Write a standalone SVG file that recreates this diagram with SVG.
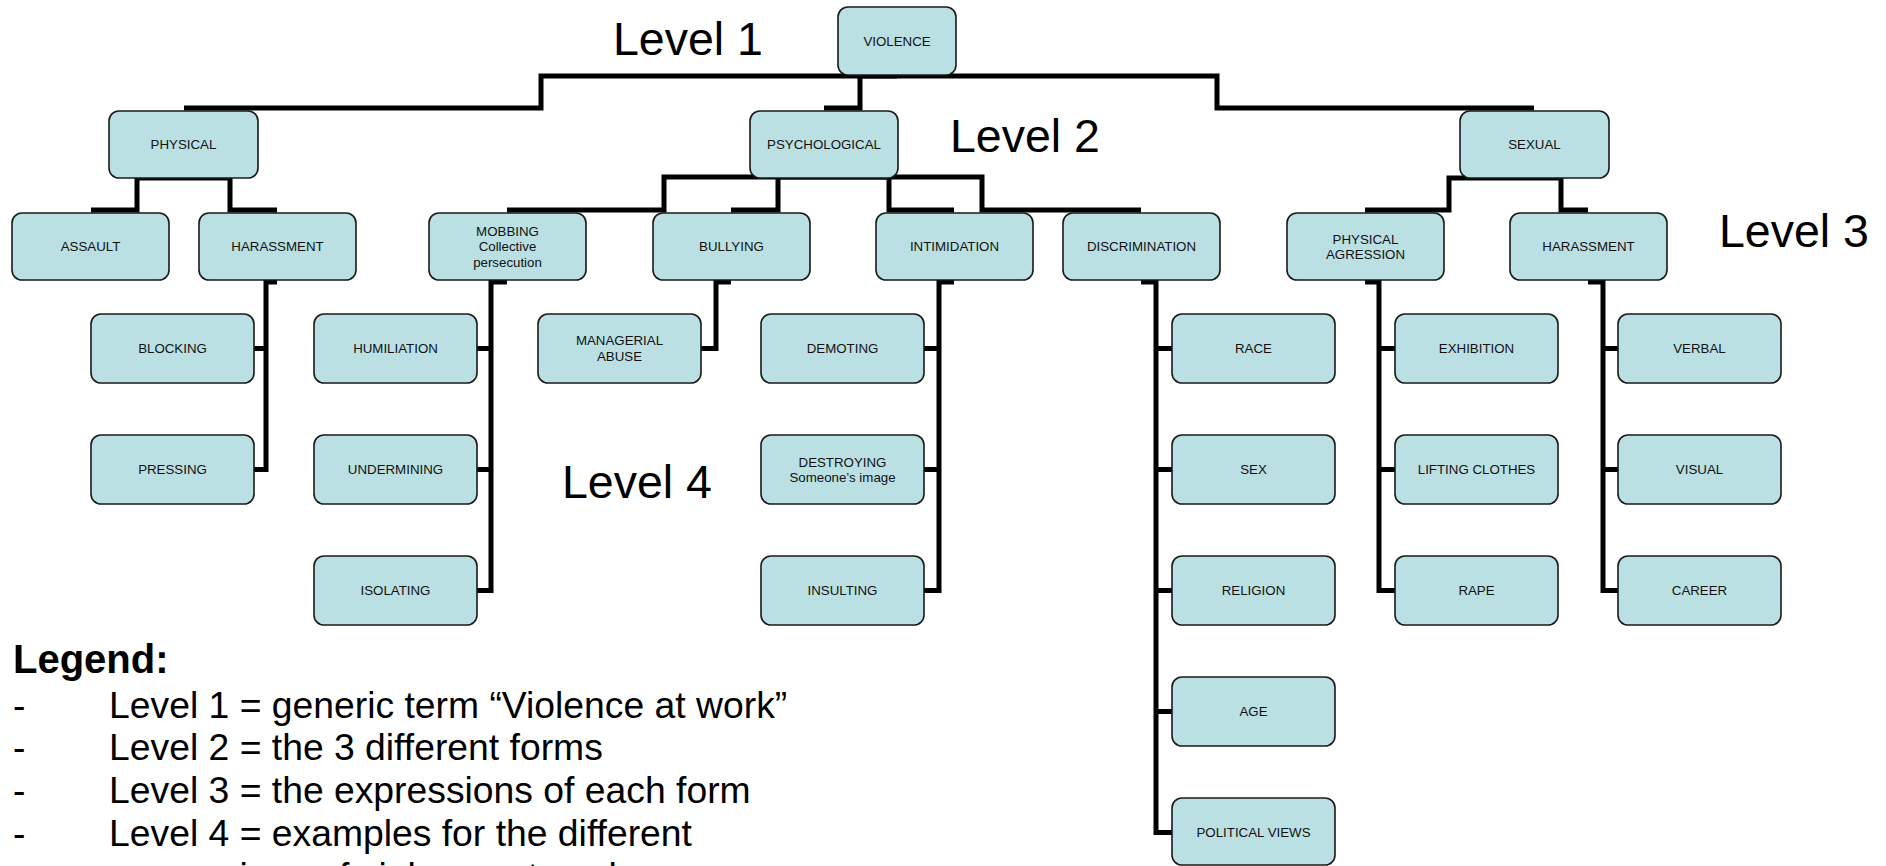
<svg xmlns="http://www.w3.org/2000/svg" width="1886" height="866" viewBox="0 0 1886 866">
<style>
.box{fill:#BAE0E3;stroke:#1a1a1a;stroke-width:1.6}
.lbl{font-family:"Liberation Sans",Arial,sans-serif;font-size:13.3px;fill:#111;text-anchor:middle}
.lvl{font-family:"Liberation Sans",Arial,sans-serif;font-size:46.5px;fill:#000}
.leg{font-family:"Liberation Sans",Arial,sans-serif;font-size:37.3px;fill:#000}
.legh{font-family:"Liberation Sans",Arial,sans-serif;font-size:40px;font-weight:bold;fill:#000}
.con{fill:none;stroke:#000;stroke-width:5;stroke-linejoin:miter;stroke-linecap:butt}
</style>
<rect width="1886" height="866" fill="#fff"/>
<g id="connectors" class="con">
<path d="M897 76H541V108H184"/>
<path d="M897 76H860V108H824"/>
<path d="M897 76H1217V108H1534"/>
<path d="M184 178H137V210H91"/>
<path d="M184 178H230V210H277"/>
<path d="M824 177H664V210H507"/>
<path d="M824 177H778V210H731"/>
<path d="M824 177H889V210H954"/>
<path d="M824 177H982V210H1141"/>
<path d="M1534 178H1449V210H1365"/>
<path d="M1534 178H1561V210H1588"/>
<path d="M277 282H266V469.5H254M266 348.5H254"/>
<path d="M507 282H491V590.5H477M491 348.5H477M491 469.5H477"/>
<path d="M731 282H716V348.5H701"/>
<path d="M954 282H939V590.5H924M939 348.5H924M939 469.5H924"/>
<path d="M1141 282H1156V832.5H1172M1156 348.5H1172M1156 469.5H1172M1156 590.5H1172M1156 711.5H1172"/>
<path d="M1365 282H1379V590.5H1395M1379 348.5H1395M1379 469.5H1395"/>
<path d="M1588 282H1603V590.5H1618M1603 348.5H1618M1603 469.5H1618"/>
</g>
<g id="n-violence"><rect class="box" x="838" y="7" width="118" height="68" rx="10"/><text class="lbl" x="897" y="45.7">VIOLENCE</text></g>
<g id="n-physical"><rect class="box" x="109" y="111" width="149" height="67" rx="10"/><text class="lbl" x="183.5" y="149.2">PHYSICAL</text></g>
<g id="n-psychological"><rect class="box" x="750" y="111" width="148" height="67" rx="10"/><text class="lbl" x="824" y="149.2">PSYCHOLOGICAL</text></g>
<g id="n-sexual"><rect class="box" x="1460" y="111" width="149" height="67" rx="10"/><text class="lbl" x="1534.5" y="149.2">SEXUAL</text></g>
<g id="n-assault"><rect class="box" x="12" y="213" width="157" height="67" rx="10"/><text class="lbl" x="90.5" y="251.2">ASSAULT</text></g>
<g id="n-harassment-phys"><rect class="box" x="199" y="213" width="157" height="67" rx="10"/><text class="lbl" x="277.5" y="251.2">HARASSMENT</text></g>
<g id="n-mobbing"><rect class="box" x="429" y="213" width="157" height="67" rx="10"/><text class="lbl" x="507.5" y="235.7">MOBBING</text><text class="lbl" x="507.5" y="251.2">Collective</text><text class="lbl" x="507.5" y="266.7">persecution</text></g>
<g id="n-bullying"><rect class="box" x="653" y="213" width="157" height="67" rx="10"/><text class="lbl" x="731.5" y="251.2">BULLYING</text></g>
<g id="n-intimidation"><rect class="box" x="876" y="213" width="157" height="67" rx="10"/><text class="lbl" x="954.5" y="251.2">INTIMIDATION</text></g>
<g id="n-discrimination"><rect class="box" x="1063" y="213" width="157" height="67" rx="10"/><text class="lbl" x="1141.5" y="251.2">DISCRIMINATION</text></g>
<g id="n-physical-agression"><rect class="box" x="1287" y="213" width="157" height="67" rx="10"/><text class="lbl" x="1365.5" y="243.5">PHYSICAL</text><text class="lbl" x="1365.5" y="259">AGRESSION</text></g>
<g id="n-harassment-sex"><rect class="box" x="1510" y="213" width="157" height="67" rx="10"/><text class="lbl" x="1588.5" y="251.2">HARASSMENT</text></g>
<g id="n-blocking"><rect class="box" x="91" y="314" width="163" height="69" rx="10"/><text class="lbl" x="172.5" y="353.2">BLOCKING</text></g>
<g id="n-pressing"><rect class="box" x="91" y="435" width="163" height="69" rx="10"/><text class="lbl" x="172.5" y="474.2">PRESSING</text></g>
<g id="n-humiliation"><rect class="box" x="314" y="314" width="163" height="69" rx="10"/><text class="lbl" x="395.5" y="353.2">HUMILIATION</text></g>
<g id="n-undermining"><rect class="box" x="314" y="435" width="163" height="69" rx="10"/><text class="lbl" x="395.5" y="474.2">UNDERMINING</text></g>
<g id="n-isolating"><rect class="box" x="314" y="556" width="163" height="69" rx="10"/><text class="lbl" x="395.5" y="595.2">ISOLATING</text></g>
<g id="n-managerial"><rect class="box" x="538" y="314" width="163" height="69" rx="10"/><text class="lbl" x="619.5" y="345">MANAGERIAL</text><text class="lbl" x="619.5" y="361">ABUSE</text></g>
<g id="n-demoting"><rect class="box" x="761" y="314" width="163" height="69" rx="10"/><text class="lbl" x="842.5" y="353.2">DEMOTING</text></g>
<g id="n-destroying"><rect class="box" x="761" y="435" width="163" height="69" rx="10"/><text class="lbl" x="842.5" y="466.5">DESTROYING</text><text class="lbl" x="842.5" y="482">Someone’s image</text></g>
<g id="n-insulting"><rect class="box" x="761" y="556" width="163" height="69" rx="10"/><text class="lbl" x="842.5" y="595.2">INSULTING</text></g>
<g id="n-race"><rect class="box" x="1172" y="314" width="163" height="69" rx="10"/><text class="lbl" x="1253.5" y="353.2">RACE</text></g>
<g id="n-sex"><rect class="box" x="1172" y="435" width="163" height="69" rx="10"/><text class="lbl" x="1253.5" y="474.2">SEX</text></g>
<g id="n-religion"><rect class="box" x="1172" y="556" width="163" height="69" rx="10"/><text class="lbl" x="1253.5" y="595.2">RELIGION</text></g>
<g id="n-age"><rect class="box" x="1172" y="677" width="163" height="69" rx="10"/><text class="lbl" x="1253.5" y="716.2">AGE</text></g>
<g id="n-political"><rect class="box" x="1172" y="798" width="163" height="67" rx="10"/><text class="lbl" x="1253.5" y="837.2">POLITICAL VIEWS</text></g>
<g id="n-exhibition"><rect class="box" x="1395" y="314" width="163" height="69" rx="10"/><text class="lbl" x="1476.5" y="353.2">EXHIBITION</text></g>
<g id="n-lifting"><rect class="box" x="1395" y="435" width="163" height="69" rx="10"/><text class="lbl" x="1476.5" y="474.2">LIFTING CLOTHES</text></g>
<g id="n-rape"><rect class="box" x="1395" y="556" width="163" height="69" rx="10"/><text class="lbl" x="1476.5" y="595.2">RAPE</text></g>
<g id="n-verbal"><rect class="box" x="1618" y="314" width="163" height="69" rx="10"/><text class="lbl" x="1699.5" y="353.2">VERBAL</text></g>
<g id="n-visual"><rect class="box" x="1618" y="435" width="163" height="69" rx="10"/><text class="lbl" x="1699.5" y="474.2">VISUAL</text></g>
<g id="n-career"><rect class="box" x="1618" y="556" width="163" height="69" rx="10"/><text class="lbl" x="1699.5" y="595.2">CAREER</text></g>
<g id="level-labels">
<text class="lvl" x="613" y="55">Level 1</text>
<text class="lvl" x="950" y="152">Level 2</text>
<text class="lvl" x="1719" y="247">Level 3</text>
<text class="lvl" x="562" y="498">Level 4</text>
</g>
<g id="legend">
<text class="legh" x="13" y="673">Legend:</text>
<text class="leg" x="13" y="718">-</text>
<text class="leg" x="109" y="718">Level 1 = generic term “Violence at work”</text>
<text class="leg" x="13" y="760">-</text>
<text class="leg" x="109" y="760">Level 2 = the 3 different forms</text>
<text class="leg" x="13" y="803">-</text>
<text class="leg" x="109" y="803">Level 3 = the expressions of each form</text>
<text class="leg" x="13" y="846">-</text>
<text class="leg" x="109" y="846">Level 4 = examples for the different</text>
<text class="leg" x="109" y="889">expressions of violence at work</text>
</g>
</svg>
